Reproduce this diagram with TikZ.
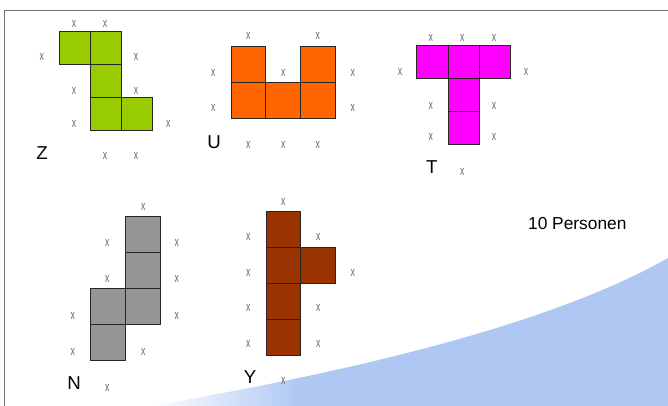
\documentclass[tikz,border=0pt]{standalone}
\usepackage{fontspec}
\setmainfont{Liberation Sans}
\usepackage{tikz}
\definecolor{zgreen}{RGB}{153,204,0}
\definecolor{uorange}{RGB}{255,102,0}
\definecolor{tmagenta}{RGB}{255,0,255}
\definecolor{ngray}{RGB}{150,150,150}
\definecolor{ybrown}{RGB}{153,51,0}
\definecolor{swoosh}{RGB}{174,200,243}
\tikzset{
  cell/.style={draw=black!85, line width=0.75pt},
  xmark/.style={text=black!60, font=\fontsize{10}{10}\selectfont, inner sep=0pt, xscale=0.65, transform shape},
  letter/.style={font=\fontsize{14}{14}\selectfont, inner sep=0pt}
}

\begin{document}
\begin{tikzpicture}[x=0.75pt,y=-0.75pt]
    \useasboundingbox (0,0) rectangle (668,406);
    \begin{scope}
        \clip (150,406) .. controls (350,372) and (550,325) .. (668,258) -- (668,406) -- cycle;
        \fill[swoosh] (300,240) rectangle (668,406);
        \shade[left color=white, right color=swoosh] (150,240) rectangle (300.5,406);
    \end{scope}
    \draw[black!55, line width=1.1pt] (4.5,406) -- (4.5,10.5) -- (668,10.5);

    \foreach \c/\r in {0/0,1/0,1/1,1/2,2/2}
        \draw[cell, fill=zgreen] (59+\c*31.2, 31.7+\r*33) rectangle ++(31.2,33);
    \foreach \p [count=\i] in {{74,24},{105,24},{41.7,57.3},{136,57.3},{74,90.7},{136,90.7},{74,124},{168.3,124},{105,156},{136,156}}
        \node[xmark] (zx\i) at (\p) {x};
    \node[letter] (labZ) at (42,152.7) {Z};

    \foreach \c/\r in {0/0,2/0,0/1,1/1,2/1}
        \draw[cell, fill=uorange] (231+\c*34.8, 46.7+\r*35.8) rectangle ++(34.8,35.8);
    \foreach \p [count=\i] in {{248.3,36},{317.7,36},{213.3,72.7},{283.3,72.7},{352.7,72.7},{213.3,108.3},{352.7,108.3},{248.3,145},{283.3,145},{317.7,145}}
        \node[xmark] (ux\i) at (\p) {x};
    \node[letter] (labU) at (214,141.7) {U};

    \foreach \c/\r in {0/0,1/0,2/0,1/1,1/2}
        \draw[cell, fill=tmagenta] (416.7+\c*31.4, 46+\r*33) rectangle ++(31.4,33);
    \foreach \p [count=\i] in {{430.7,38.3},{462.3,38.3},{494,38.3},{400,71.7},{526,71.7},{430.7,106},{494,106},{430.7,137.3},{494,137.3},{462.3,171.7}}
        \node[xmark] (tx\i) at (\p) {x};
    \node[letter] (labT) at (431.7,166.7) {T};

    \foreach \c/\r in {1/0,1/1,1/2,0/2,0/3}
        \draw[cell, fill=ngray] (90.3+\c*35, 216.7+\r*36) rectangle ++(35,36);
    \foreach \p [count=\i] in {{143.3,206.7},{107.3,242.7},{176.7,242.7},{107.3,279},{176.7,279},{72.7,316},{176.7,316},{72.7,351.7},{143.3,351.7},{107.3,388.3}}
        \node[xmark] (nx\i) at (\p) {x};
    \node[letter] (labN) at (74,383.3) {N};

    \foreach \c/\r in {0/0,0/1,1/1,0/2,0/3}
        \draw[cell, fill=ybrown] (266+\c*34.7, 211.3+\r*36) rectangle ++(34.7,36);
    \foreach \p [count=\i] in {{283.3,201.7},{248.3,237.3},{318.3,237.3},{248.3,272.7},{352.7,272.7},{248.3,308.3},{318.3,308.3},{248.3,344},{318.3,344},{283.3,380.7}}
        \node[xmark] (yx\i) at (\p) {x};
    \node[letter] (labY) at (250,377.3) {Y};

    \node[font=\fontsize{13}{13}\selectfont, inner sep=0pt] (persons) at (577.3,223.3) {10 Personen};
\end{tikzpicture}
\end{document}
